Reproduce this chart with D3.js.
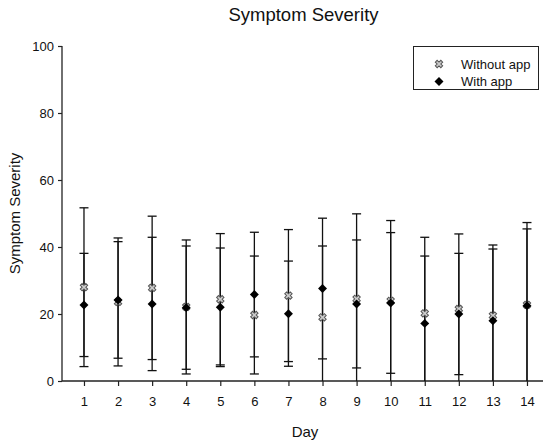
<!DOCTYPE html>
<html>
<head>
<meta charset="utf-8">
<script src="https://cdn.jsdelivr.net/npm/d3@7"></script>
<style>
  body { margin: 0; background: #fff; }
  text { font-family: "Liberation Sans", Arial, sans-serif; fill: #111; }
</style>
</head>
<body>
<svg id="chart" width="550" height="445"></svg>
<script>
// days on the x axis
var days = [1, 2, 3, 4, 5, 6, 7, 8, 9, 10, 11, 12, 13, 14]

// mean and SD for each group
var withoutMean = [28.0, 23.6, 27.8, 22.1, 24.4, 19.7, 25.5, 19.0, 24.5, 23.9, 20.2, 21.5, 19.5, 22.7]
var withoutSd   = [23.7, 19.1, 21.4, 20.0, 19.6, 17.6, 19.7, 21.3, 25.4, 24.0, 22.7, 22.4, 21.1, 24.6]
var withMean    = [22.7, 24.2, 23.0, 21.9, 22.0, 25.8, 20.1, 27.6, 23.0, 23.3, 17.2, 20.0, 18.0, 22.5]
var withSd      = [15.4, 17.4, 19.9, 18.4, 17.7, 18.6, 15.7, 21.0, 19.1, 21.0, 20.1, 18.1, 21.4, 22.9]

var yTicks = [0, 20, 40, 60, 80, 100]

var svg = d3.select("#chart")
// note: "top" is a reserved window global, so use plot* names
var plotLeft = 62, plotRight = 543, plotTop = 46, plotBottom = 381

var x = d3.scaleLinear().domain([0.355, 14.47]).range([plotLeft, plotRight])
var y = d3.scaleLinear().domain([0, 100]).range([plotBottom, plotTop])

// clip the error bars to the plot so bars under zero stop at the axis
svg.append("clipPath").attr("id", "plotClip")
  .append("rect")
  .attr("x", plotLeft).attr("y", plotTop - 10)
  .attr("width", plotRight - plotLeft).attr("height", plotBottom - plotTop + 10)

// axes
var xAxis = d3.axisBottom(x).tickValues(days).tickSize(5).tickPadding(10.5).tickFormat(d3.format("d"))
var gx = svg.append("g").attr("transform", "translate(0," + plotBottom + ")").call(xAxis)
var yAxis = d3.axisLeft(y).tickValues(yTicks).tickSize(4).tickPadding(4)
var gy = svg.append("g").attr("transform", "translate(" + plotLeft + ",0)").call(yAxis)

;[gx, gy].forEach(function(g) {
  g.select(".domain").attr("stroke", "#222").attr("stroke-width", 1.3)
  g.selectAll(".tick line").attr("stroke", "#222").attr("stroke-width", 1.2)
  g.selectAll(".tick text").style("font-size", "13px").style("font-family", "Liberation Sans, Arial, sans-serif").attr("fill", "#111")
})
// domains without outer ticks
gx.select(".domain").attr("d", "M" + plotLeft + ",0H" + plotRight)
gy.select(".domain").attr("d", "M0," + y(100) + "V" + plotBottom)

// error bars, one set per group
function errorBars(means, sds) {
  var g = svg.append("g").attr("clip-path", "url(#plotClip)")
  days.forEach(function(d, i) {
    var lo = means[i] - sds[i], hi = means[i] + sds[i]
    g.append("line")
      .attr("x1", x(d)).attr("x2", x(d))
      .attr("y1", y(Math.max(lo, 0))).attr("y2", y(hi))
      .attr("stroke", "#111").attr("stroke-width", 1.3)
    ;[lo, hi].forEach(function(v) {
      if (v <= 0) return
      g.append("line")
        .attr("x1", x(d) - 4.5).attr("x2", x(d) + 4.5)
        .attr("y1", y(v)).attr("y2", y(v))
        .attr("stroke", "#111").attr("stroke-width", 1.3)
    })
  })
}
errorBars(withoutMean, withoutSd)
errorBars(withMean, withSd)

// markers
var crossPath = d3.symbol().type(d3.symbolCross).size(34)()
var diamondPath = d3.symbol().type(d3.symbolSquare).size(40)()

svg.append("g").selectAll("path.without")
  .data(days)
  .join("path")
  .attr("class", "without")
  .attr("d", crossPath)
  .attr("transform", function(d, i) { return "translate(" + x(d) + "," + y(withoutMean[i]) + ") rotate(45)" })
  .attr("fill", "#ccc").attr("stroke", "#555").attr("stroke-width", 1)

svg.append("g").selectAll("path.with")
  .data(days)
  .join("path")
  .attr("class", "with")
  .attr("d", diamondPath)
  .attr("transform", function(d, i) { return "translate(" + x(d) + "," + y(withMean[i]) + ") rotate(45)" })
  .attr("fill", "#000")

// title and axis labels
svg.append("text").attr("x", 303.5).attr("y", 21).attr("text-anchor", "middle")
  .style("font-size", "18.5px").text("Symptom Severity")
svg.append("text").attr("x", 305).attr("y", 437).attr("text-anchor", "middle")
  .style("font-size", "15px").text("Day")
svg.append("text").attr("transform", "translate(20," + ((plotTop + plotBottom) / 2) + ") rotate(-90)")
  .attr("text-anchor", "middle").style("font-size", "15px").text("Symptom Severity")

// legend
var legend = svg.append("g")
legend.append("rect").attr("x", 413.5).attr("y", 46.5).attr("width", 125).attr("height", 43)
  .attr("fill", "#fff").attr("stroke", "#222").attr("stroke-width", 1)
var legendItems = ["Without app", "With app"]
legendItems.forEach(function(name, i) {
  var ly = 64 + i * 17.5
  legend.append("path")
    .attr("d", i === 0 ? crossPath : diamondPath)
    .attr("transform", "translate(439," + ly + ") rotate(45)")
    .attr("fill", i === 0 ? "#ccc" : "#000")
    .attr("stroke", i === 0 ? "#555" : "none")
  legend.append("text").attr("x", 461).attr("y", ly + 4.5)
    .style("font-size", "13px").text(name)
})
</script>
</body>
</html>
